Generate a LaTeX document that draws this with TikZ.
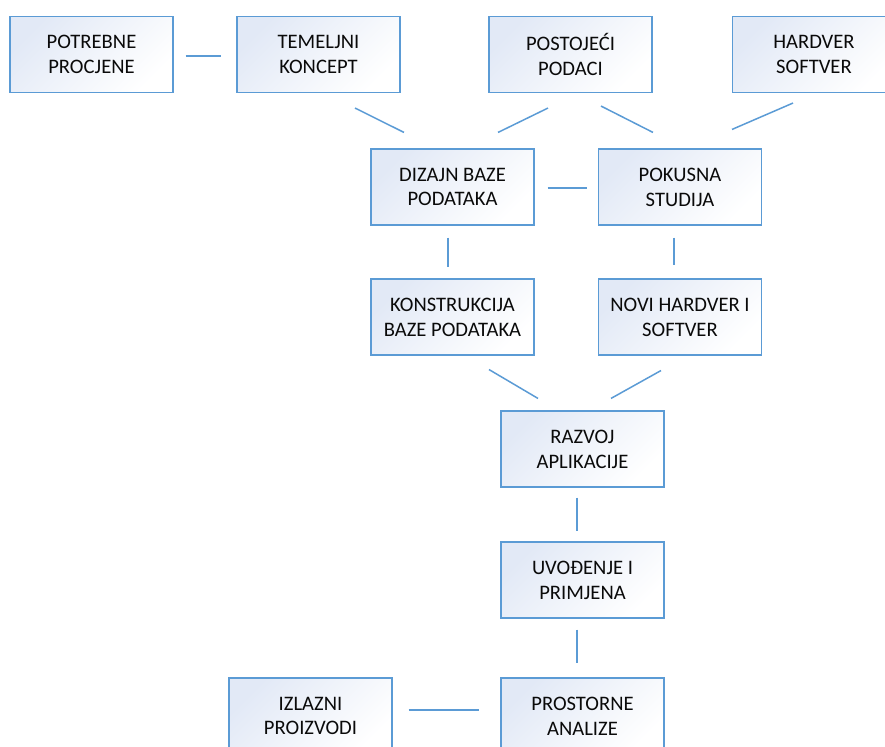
\documentclass[tikz,border=0pt]{standalone}
\usepackage{fontspec}
\setmainfont{Carlito}
\usepackage{tikz}
\usetikzlibrary{calc}
\definecolor{boxline}{RGB}{91,155,213}
\definecolor{boxtint}{RGB}{226,233,246}
\definecolor{boxtext}{RGB}{10,10,10}
\tikzset{every picture/.style={x=0.5pt, y=-0.5pt}}
\tikzset{korak/.style={draw=boxline, line width=0.55pt, top color=boxtint, bottom color=white,
  shading angle=45, minimum width=81.5pt, minimum height=38pt, inner sep=0pt, align=center,
  text=boxtext, font=\fontsize{10.3}{12.4}\selectfont}}
\tikzset{veza/.style={draw=boxline, line width=0.75pt}}

\begin{document}
\begin{tikzpicture}
\useasboundingbox (0,0) rectangle (885,747);
\node[korak] (1) at (91.5,54.5) {POTREBNE\\PROCJENE};
\node[korak] (2) at (318.5,54.5) {TEMELJNI\\KONCEPT};
\node[korak] (3) at (570.5,54.5) {POSTOJEĆI\\PODACI};
\node[korak] (4) at (814,54.5) {HARDVER\\SOFTVER};
\node[korak] (5) at (452.5,187) {DIZAJN BAZE\\PODATAKA};
\node[korak] (6) at (680,187) {POKUSNA\\STUDIJA};
\node[korak] (7) at (452.5,317) {KONSTRUKCIJA\\BAZE PODATAKA};
\node[korak] (8) at (680,317) {NOVI HARDVER I\\SOFTVER};
\node[korak] (9) at (582.5,449) {RAZVOJ\\APLIKACIJE};
\node[korak] (10) at (582.5,580) {UVOĐENJE I\\PRIMJENA};
\node[korak] (11) at (582.5,716) {PROSTORNE\\ANALIZE};
\node[korak] (12) at (310.5,716) {IZLAZNI\\PROIZVODI};
\draw[veza] ($(1.east)+(12,1.5)$) -- ($(2.west)+(-15,1.5)$);
\draw[veza] ($(2.south)+(36.5,15)$) -- ($(5.north)+(-48.5,-16)$);
\draw[veza] ($(3.south)+(-22.5,15)$) -- ($(5.north)+(45.5,-16)$);
\draw[veza] ($(3.south)+(30.5,13)$) -- ($(6.north)+(-27,-16)$);
\draw[veza] ($(4.south)+(-21,10)$) -- ($(6.north)+(52,-19)$);
\draw[veza] ($(5.east)+(13,1)$) -- ($(6.west)+(-11,1)$);
\draw[veza] ($(5.south)+(-4.5,12)$) -- ($(7.north)+(-4.5,-11)$);
\draw[veza] ($(6.south)+(-6,12)$) -- ($(8.north)+(-6,-13)$);
\draw[veza] ($(7.south)+(36.5,14)$) -- ($(9.north)+(-44.5,-12)$);
\draw[veza] ($(8.south)+(-19,15)$) -- ($(9.north)+(28.5,-12)$);
\draw[veza] ($(9.south)+(-5.5,10)$) -- ($(10.north)+(-5.5,-10)$);
\draw[veza] ($(10.south)+(-5.5,11)$) -- ($(11.north)+(-5.5,-14)$);
\draw[veza] ($(12.east)+(16,-6)$) -- ($(11.west)+(-21,-6)$);
\end{tikzpicture}
\end{document}
